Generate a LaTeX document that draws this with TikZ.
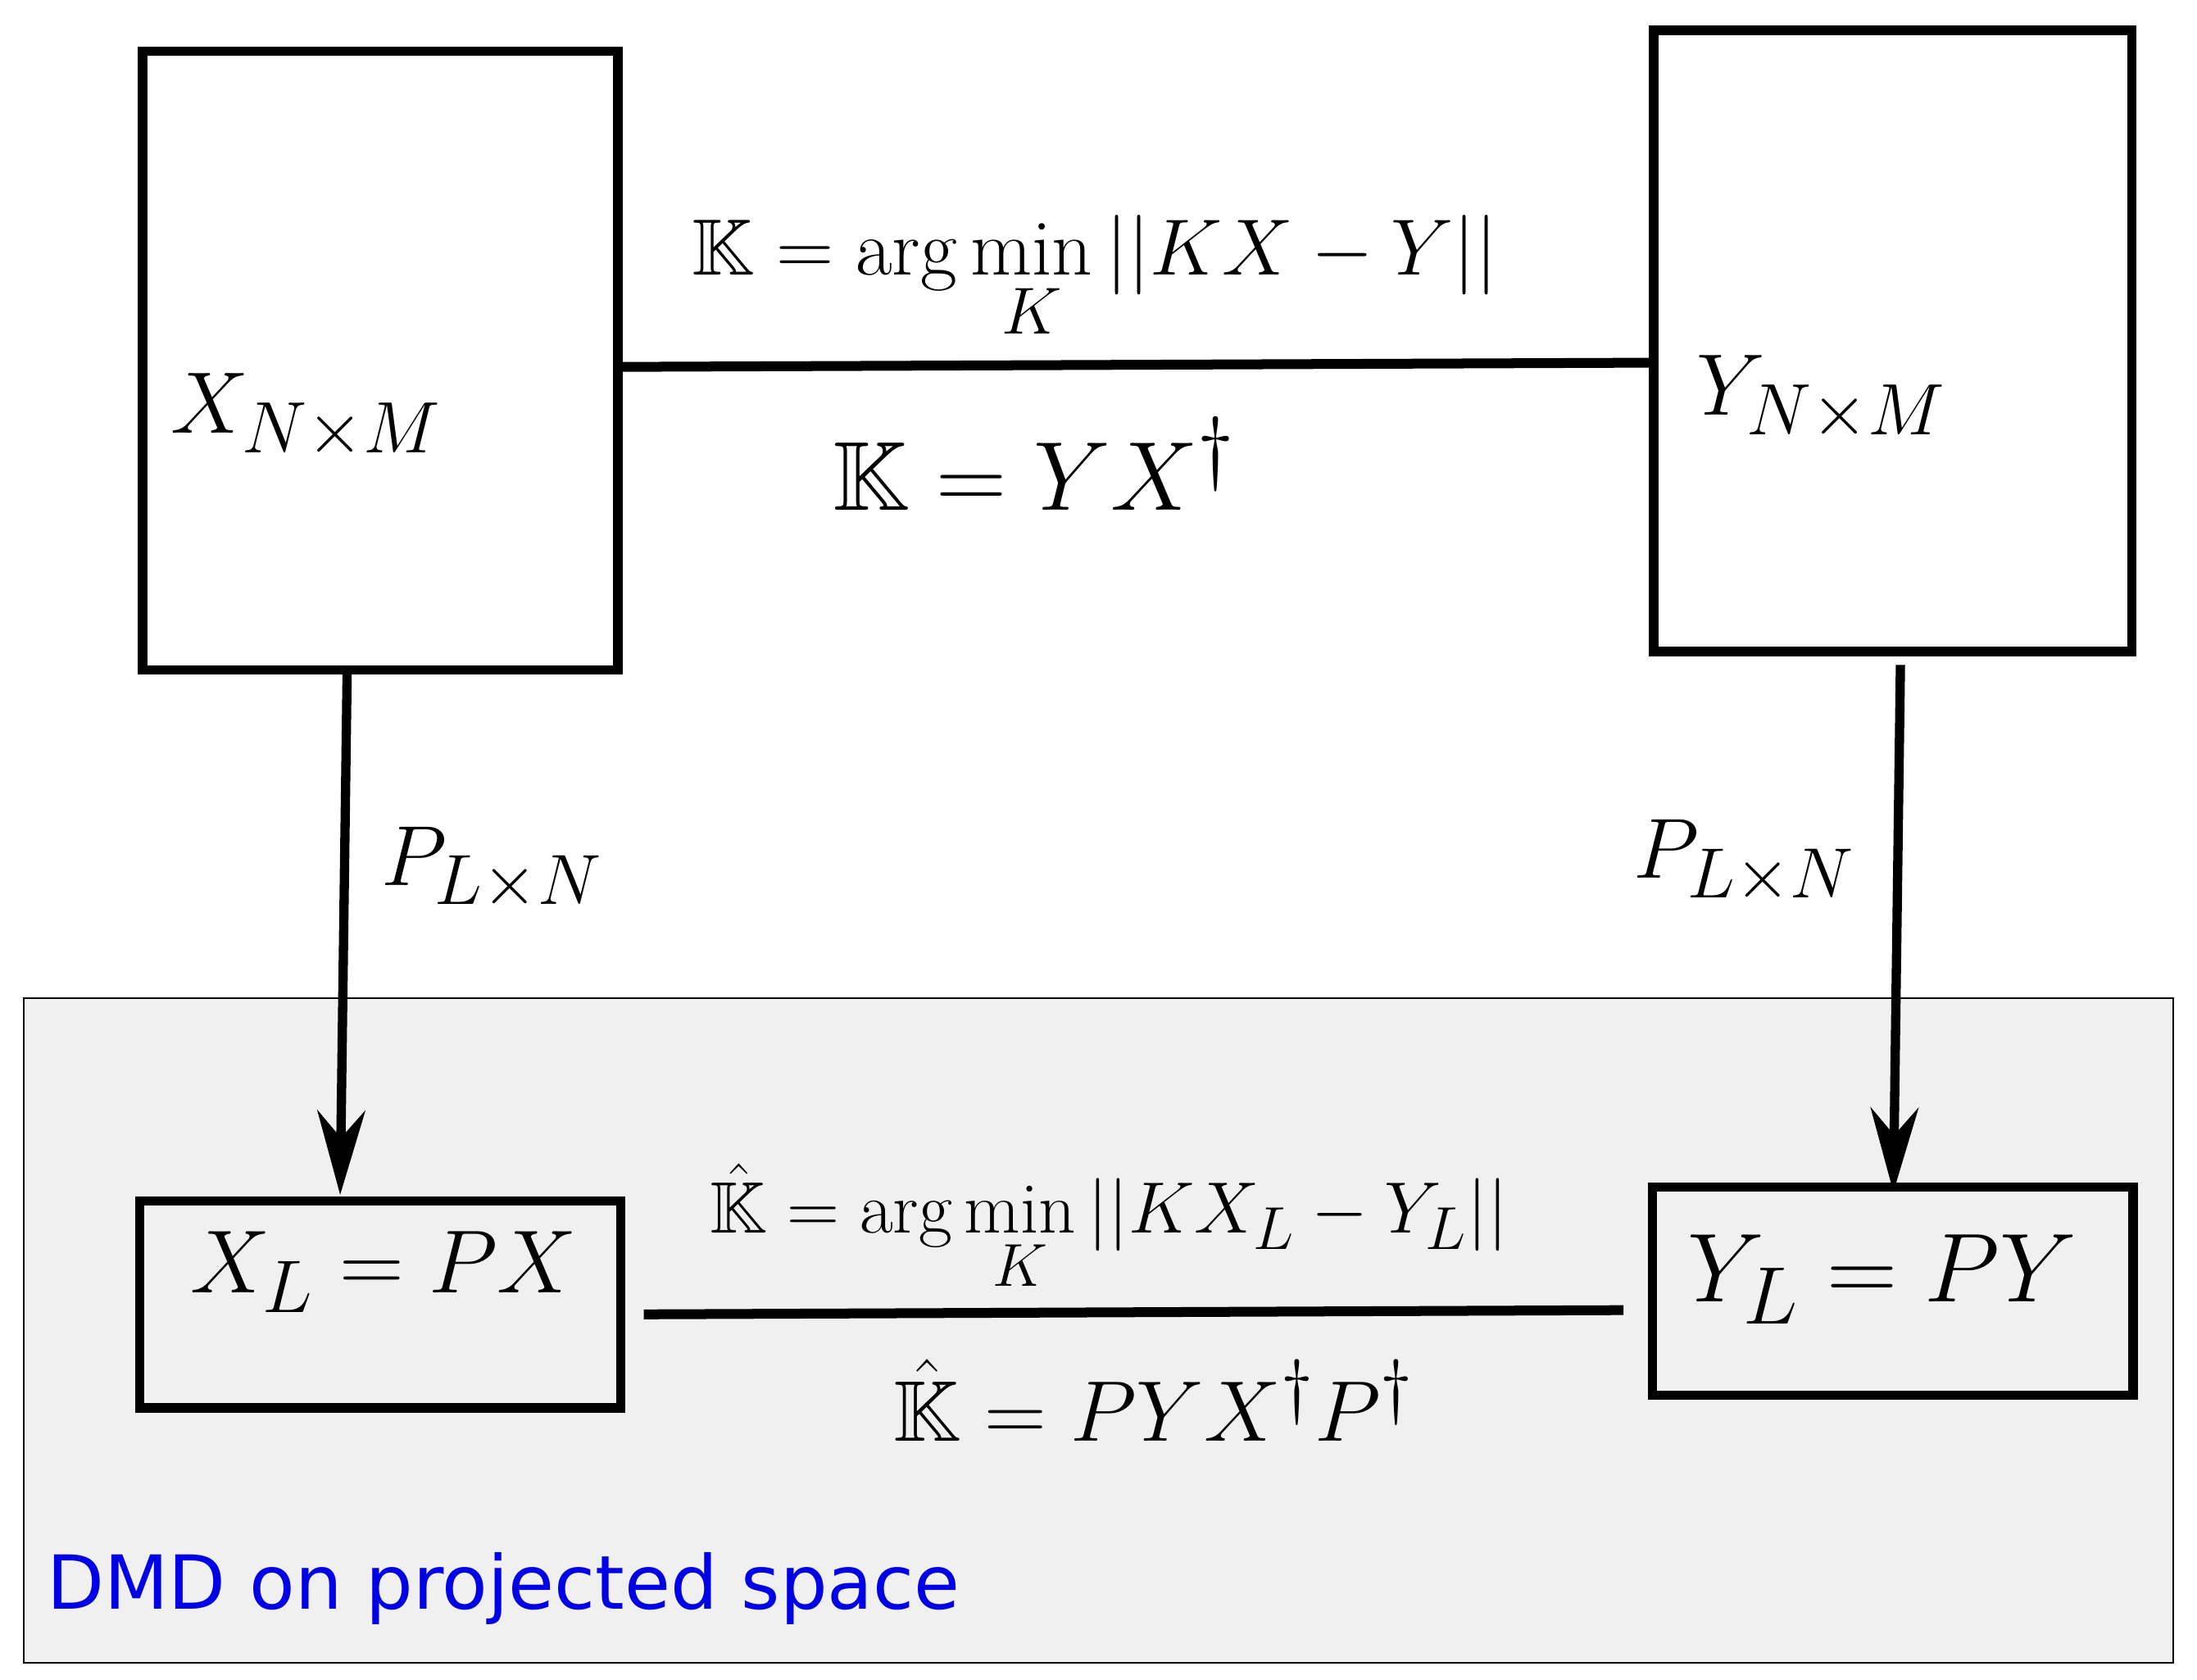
\documentclass[tikz,border=0pt]{standalone}
\usepackage{amsmath,amssymb,graphicx}
\usepackage{fontspec}
\newfontfamily\dmdfont{DejaVu Sans}
\usetikzlibrary{arrows.meta}
\newcommand{\sm}[2]{\scalebox{#1}{\Huge$#2$}}
\begin{document}
\begin{tikzpicture}[x=0.5pt,y=-0.5pt,
  box/.style={draw,line width=3.3pt},
  conn/.style={line width=3.5pt},
  arr/.style={line width=3.3pt,-{Stealth[length=30pt,width=17pt]}},
  lbl/.style={inner sep=0pt}]
\useasboundingbox (0,0) rectangle (1563,1195);
\draw[fill=black!6,line width=0.6pt] (17,710) rectangle (1546,1183);
\node[box,minimum width=338*0.5pt,minimum height=440*0.5pt] (X) at (270.5,256.5) {};
\node[box,minimum width=340*0.5pt,minimum height=442*0.5pt] (Y) at (1346.5,242.5) {};
\node[box,minimum width=342*0.5pt,minimum height=147*0.5pt] (XL) at (270.5,928) {};
\node[box,minimum width=342*0.5pt,minimum height=148*0.5pt] (YL) at (1346.5,918.5) {};
\node[lbl] (xt) at (218,296) {\sm{1.25}{X_{N\times M}}};
\node[lbl] (yt) at (1296,283) {\sm{1.25}{Y_{N\times M}}};
\node[lbl] (xlt) at (273,905) {\sm{1.28}{X_L = PX}};
\node[lbl] (ylt) at (1339,910) {\sm{1.40}{Y_L = PY}};
\coordinate (a1) at (441,261); \coordinate (a2) at (1175,258);
\draw[conn] (a1) -- (a2);
\coordinate (b1) at (458,935); \coordinate (b2) at (1155,932);
\draw[conn] (b1) -- (b2);
\node[lbl] (t1) at (779,198) {\sm{1.14}{\mathbb{K} = \arg\min\limits_K ||KX-Y||}};
\node[lbl] (t2) at (736,330) {\sm{1.40}{\mathbb{K} = YX^{\dagger}}};
\node[lbl] (t3) at (789,874) {\sm{1.04}{\hat{\mathbb{K}} = \arg\min\limits_K ||KX_L-Y_L||}};
\node[lbl] (t4) at (821,996) {\sm{1.23}{\hat{\mathbb{K}} = PYX^{\dagger}P^{\dagger}}};
\coordinate (s1) at (247,475); \coordinate (e1) at (242,850);
\coordinate (s2) at (1352,473); \coordinate (e2) at (1347,848);
\draw[arr] (s1) -- (e1);
\draw[arr] (s2) -- (e2);
\node[lbl] (p1) at (350,618) {\sm{1.22}{P_{L\times N}}};
\node[lbl] (p2) at (1241,613) {\sm{1.22}{P_{L\times N}}};
\node[lbl,anchor=west,text=blue!90!black,font=\dmdfont\fontsize{26.5}{32}\selectfont] (dmd) at (33,1130) {DMD on projected space};
\end{tikzpicture}
\end{document}
